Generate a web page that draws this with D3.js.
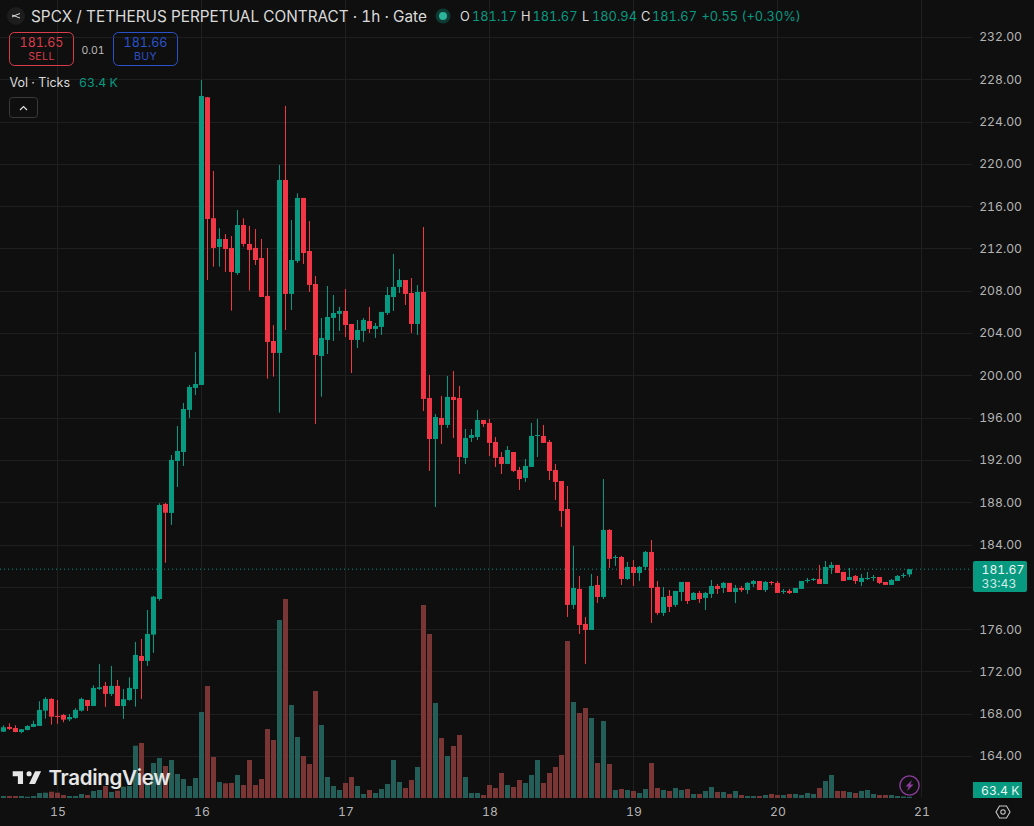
<!DOCTYPE html>
<html>
<head>
<meta charset="utf-8">
<script src="https://cdnjs.cloudflare.com/ajax/libs/d3/7.8.5/d3.min.js"></script>
<style>
html,body{margin:0;padding:0;background:#0f0f0f;overflow:hidden}
svg{display:block}
text{font-family:Inter,"Noto Sans",sans-serif;font-variant-numeric:tabular-nums}
</style>
</head>
<body>
<svg id="chart" width="1034" height="826"></svg>
<script>
// Hourly SPCX/USDT perpetual candles, oldest first
const opens = [166.30,166.75,166.65,166.27,166.46,166.75,166.84,168.29,169.40,167.79,167.88,167.47,167.60,168.29,169.30,168.73,170.34,170.63,169.87,170.63,168.73,169.30,170.34,173.46,172.99,175.48,178.85,187.84,186.99,191.90,192.75,196.73,198.81,199.09,226.30,214.86,212.14,212.90,212.05,209.68,214.22,212.43,212.05,211.10,207.51,203.25,202.12,218.48,207.70,210.82,216.78,211.76,208.64,201.83,203.35,205.43,205.81,206.09,204.86,203.35,204.20,205.14,204.39,204.58,205.90,207.41,208.36,209.02,207.79,204.86,207.89,197.86,193.98,195.97,195.31,197.96,197.86,192.19,194.08,194.17,195.78,195.50,193.70,192.28,191.62,192.75,191.05,190.30,191.34,194.27,194.27,193.70,191.05,190.01,187.36,178.29,179.80,176.49,175.92,180.18,179.04,185.38,182.73,182.82,180.74,181.88,181.31,181.88,183.30,179.99,177.53,179.14,178.29,179.51,180.46,178.76,179.42,178.95,179.33,180.08,179.89,180.37,179.51,179.89,179.70,180.27,180.55,179.70,180.46,180.37,179.51,179.61,179.42,179.80,180.55,180.65,180.74,180.27,181.78,182.07,181.41,180.65,181.03,180.46,180.74,180.84,180.93,180.46,180.18,180.55,181.03,181.17];
const highs = [166.91,167.10,166.91,166.56,166.91,167.34,169.18,169.56,169.46,169.30,167.98,167.98,168.52,169.52,169.30,170.69,172.71,171.00,172.52,171.19,170.34,171.45,174.79,175.07,177.81,179.14,187.90,187.93,192.47,195.21,197.39,199.09,202.21,227.93,226.33,219.33,213.91,213.37,213.18,215.64,214.86,214.13,213.84,212.90,212.05,204.76,219.90,225.48,214.69,217.22,216.78,214.60,209.40,205.43,208.45,207.60,206.47,208.17,204.86,205.24,205.43,206.47,204.95,206.00,208.36,211.48,210.06,209.02,209.21,208.55,214.03,200.04,196.35,198.05,199.94,200.41,199.00,194.93,194.93,196.73,195.78,195.88,194.17,192.75,193.32,192.75,191.34,192.09,195.50,195.88,195.31,193.89,191.62,190.01,189.54,183.87,181.03,177.15,181.22,181.03,190.20,185.47,183.01,182.92,182.35,182.54,181.97,183.39,184.43,180.55,179.99,179.70,179.61,180.46,180.46,179.51,179.61,179.51,180.65,180.27,180.46,180.37,180.18,180.08,180.46,180.65,180.55,180.55,180.55,180.55,179.80,179.80,179.89,180.55,180.84,180.84,182.07,182.45,182.35,182.07,181.41,181.78,181.12,181.22,181.41,181.12,180.93,180.46,180.74,181.12,181.31,181.67];
const lows = [166.27,166.46,166.25,166.15,166.43,166.75,166.84,167.53,166.97,167.03,167.19,167.29,167.53,168.20,168.26,168.73,170.25,168.64,169.68,168.73,167.50,169.23,168.67,169.40,172.52,173.75,178.69,182.28,185.85,189.44,191.43,195.97,198.14,199.09,209.02,210.28,210.28,209.78,206.12,209.49,212.17,208.01,210.44,207.41,199.69,199.88,196.47,204.29,206.18,210.63,210.53,207.89,195.40,197.98,202.02,203.25,204.20,203.63,200.22,202.59,203.16,204.01,203.54,203.82,205.71,206.09,207.79,206.66,204.01,203.82,196.63,190.96,187.55,193.51,195.02,194.08,190.67,191.62,193.70,193.89,195.12,192.38,191.34,190.67,191.62,190.86,189.16,189.92,191.34,192.28,193.61,190.11,188.22,185.66,177.15,177.91,175.54,172.71,175.92,178.47,178.85,181.78,181.97,180.18,180.65,180.08,180.55,181.59,176.58,177.34,177.25,177.62,178.10,178.66,178.38,178.76,178.47,177.81,178.95,179.33,179.42,179.51,178.47,179.51,179.33,179.99,179.70,179.51,180.18,179.42,179.33,179.33,179.42,179.80,180.37,180.55,180.27,180.27,181.22,181.31,180.55,180.65,180.27,180.08,180.65,180.55,180.27,180.18,180.18,180.55,180.84,180.94];
const closes = [166.72,166.56,166.27,166.53,166.84,167.03,168.36,169.40,167.72,167.69,167.44,167.69,168.36,169.40,168.73,170.44,170.50,169.87,170.63,168.73,169.37,170.44,173.56,172.99,175.54,179.07,187.74,187.01,192.00,192.85,196.82,198.90,199.18,226.42,214.79,212.05,212.90,211.95,209.78,214.22,212.43,211.86,210.91,207.41,203.16,202.12,218.48,207.70,210.91,216.78,211.57,208.55,201.93,203.54,205.52,205.90,206.09,204.76,203.35,204.29,205.24,204.39,204.67,206.00,207.60,208.36,209.02,207.70,204.86,207.89,197.77,193.98,196.06,195.31,197.96,197.67,192.28,194.08,194.36,195.78,195.40,193.61,192.19,191.62,192.94,190.96,190.20,191.43,194.27,194.36,193.61,190.96,189.92,187.17,178.29,179.89,176.39,175.92,180.08,179.04,185.38,182.64,182.82,180.74,181.88,181.31,181.88,183.30,179.89,177.53,179.04,178.10,179.61,180.46,178.66,179.42,178.85,179.42,180.08,179.80,180.37,179.51,179.89,179.70,180.37,180.55,179.70,180.46,180.37,179.42,179.61,179.42,179.89,180.55,180.65,180.74,180.27,181.88,182.07,181.31,180.55,180.93,180.55,180.84,180.84,180.93,180.37,180.18,180.65,181.03,181.12,181.67];
// Tick volume in thousands
const volumes = [100,100,100,100,65,100,250,265,315,265,150,100,100,200,150,350,400,600,300,365,565,600,2615,2750,650,1750,2000,1600,1900,1200,950,600,1000,4300,5600,2050,800,735,750,1150,650,1900,650,950,3450,2900,8900,9950,4650,3050,2100,1700,5350,3650,1050,600,400,750,1050,600,200,400,250,450,700,1900,800,500,900,1550,9650,8200,4750,3000,2100,2600,3150,1050,250,250,150,650,500,1250,650,550,900,750,1150,1900,750,1250,1550,2150,7850,4800,4250,4500,4000,1750,3850,1700,400,450,400,350,250,450,1750,500,400,350,500,400,450,200,200,350,550,300,300,200,350,150,100,100,100,150,200,150,150,200,200,150,250,200,500,850,1150,350,350,300,250,350,400,200,150,150,150,100,75,63.4];

const priceTicks = [232,228,224,220,216,212,208,204,200,196,192,188,184,176,172,168,164];
const gridPrices = [232,228,224,220,216,212,208,204,200,196,192,188,184,180,176,172,168,164];
const dayLabels = ["15","16","17","18","19","20","21"];
const dayBarIndex = [9,33,57,81,105,129,153];
const ohlcKeys = ["O","H","L","C"];
const ohlcValues = ["181.17","181.67","180.94","181.67"];
const lastPrice = 181.67;

const UP = "#089981", DOWN = "#f23645", BG = "#0f0f0f";
const UP_VOL = "#235f58", DOWN_VOL = "#7a3535";
const TEXT = "#dbdbdb", AXIS_TEXT = "#b4b4b4", GRID = "#1f1f1f";
const AXIS_FONT = 12.2;

const svg = d3.select("#chart");
svg.append("rect").attr("width",1034).attr("height",826).attr("fill",BG);

const plotRight = 972, plotBottom = 798;
const x = d3.scaleLinear().domain([0,151]).range([3.5,909.5]);
const y = d3.scaleLinear().domain([164,232]).range([756,37]);
const yVol = d3.scaleLinear().domain([0,12000]).range([plotBottom,558]);
const bars = d3.range(opens.length);
const isUp = i => closes[i] >= opens[i];

// Grid
const grid = svg.append("g");
grid.selectAll("line.h").data(gridPrices).join("line").attr("class","h")
  .attr("x1",0).attr("x2",plotRight).attr("y1",d=>Math.round(y(d))+0.5).attr("y2",d=>Math.round(y(d))+0.5)
  .attr("stroke",GRID);
grid.selectAll("line.v").data(dayBarIndex).join("line").attr("class","v")
  .attr("x1",d=>Math.floor(x(d))+0.5).attr("x2",d=>Math.floor(x(d))+0.5).attr("y1",0).attr("y2",plotBottom)
  .attr("stroke",GRID);

// Volume histogram
svg.append("g").selectAll("rect").data(bars).join("rect")
  .attr("x",i=>x(i)-2.5).attr("width",5)
  .attr("y",i=>yVol(volumes[i])).attr("height",i=>plotBottom-yVol(volumes[i]))
  .attr("fill",i=>isUp(i)?UP_VOL:DOWN_VOL);

// Last-price line
svg.append("line").attr("x1",0).attr("x2",plotRight)
  .attr("y1",y(lastPrice)).attr("y2",y(lastPrice))
  .attr("stroke",UP).attr("stroke-width",1).attr("stroke-dasharray","1 3");

// Candles
const candles = svg.append("g");
candles.selectAll("rect.wick").data(bars).join("rect").attr("class","wick")
  .attr("x",i=>x(i)-0.5).attr("width",1)
  .attr("y",i=>y(highs[i])).attr("height",i=>y(lows[i])-y(highs[i]))
  .attr("fill",i=>isUp(i)?UP:DOWN);
candles.selectAll("rect.body").data(bars).join("rect").attr("class","body")
  .attr("x",i=>x(i)-2.5).attr("width",5)
  .attr("y",i=>y(Math.max(opens[i],closes[i])))
  .attr("height",i=>Math.max(1,Math.abs(y(opens[i])-y(closes[i]))))
  .attr("fill",i=>isUp(i)?UP:DOWN);

// Price axis
const yAxis = svg.append("g").attr("transform","translate(1022,0)")
  .call(d3.axisLeft(y).tickValues(priceTicks).tickFormat(d3.format(".2f")).tickSize(0));
yAxis.select(".domain").remove();
yAxis.selectAll("text").attr("x",0).attr("fill",AXIS_TEXT).attr("font-size",AXIS_FONT).attr("font-family","Inter,sans-serif");

// Date axis
const xAxis = svg.append("g").attr("transform","translate(0,805)")
  .call(d3.axisBottom(x).tickValues(dayBarIndex).tickFormat((d,k)=>dayLabels[k]).tickSize(0));
xAxis.select(".domain").remove();
xAxis.selectAll("text").attr("y",0).attr("dy","0.9em").attr("fill",AXIS_TEXT).attr("font-size",AXIS_FONT).attr("font-family","Inter,sans-serif");

// Last-price tag
const tag = svg.append("g");
tag.append("rect").attr("x",973).attr("y",561).attr("width",54).attr("height",31).attr("rx",2).attr("fill",UP);
tag.append("text").attr("x",981.5).attr("y",573.5).attr("fill","#e8f5f2").attr("font-size",AXIS_FONT).text(d3.format(".2f")(lastPrice));
tag.append("text").attr("x",981.5).attr("y",587.5).attr("fill","#cfeae4").attr("font-size",AXIS_FONT).text("33:43");

// Volume tag
const vtag = svg.append("g");
vtag.append("rect").attr("x",973).attr("y",782).attr("width",49).attr("height",16).attr("fill",UP);
vtag.append("text").attr("x",981).attr("y",794.5).attr("fill","#e8f5f2").attr("font-size",AXIS_FONT).text("63.4 K");

// Settings glyph below the price axis
const gear = svg.append("g").attr("transform","translate(1003,812)").attr("fill","none").attr("stroke","#c8c8c8").attr("stroke-width",1.1);
gear.append("path").attr("d","M-7,0 L-3.5,-6 L3.5,-6 L7,0 L3.5,6 L-3.5,6 Z");
gear.append("circle").attr("r",2.2);

// Legend row
const head = svg.append("g");
head.append("circle").attr("cx",16).attr("cy",16).attr("r",9).attr("fill","#1d1d1d");
head.append("path").attr("d","M12,17 L16,15 L20,13.5 M12,15 L20,18").attr("stroke","#dddddd").attr("stroke-width",1).attr("fill","none");
head.append("text").attr("x",31).attr("y",21.5).attr("fill",TEXT).attr("font-size",15.35).text("SPCX / TETHERUS PERPETUAL CONTRACT · 1h · Gate");
head.append("circle").attr("cx",443).attr("cy",16).attr("r",7.5).attr("fill","#0d3a33");
head.append("circle").attr("cx",443).attr("cy",16).attr("r",4).attr("fill","#2bb39b");

const keyX = [460,521,582,641];
const valueX = [472,532.5,592,652];
ohlcKeys.forEach((k,n)=>{
  head.append("text").attr("x",keyX[n]).attr("y",21).attr("font-size",12.8).attr("fill",TEXT).text(k);
  head.append("text").attr("x",valueX[n]).attr("y",21).attr("font-size",12.8).attr("fill",UP).text(ohlcValues[n]);
});
head.append("text").attr("x",701.5).attr("y",21).attr("font-size",12.8).attr("fill",UP).text("+0.55 (+0.30%)");

// Sell / buy boxes
const orderBox = (bx,color,price,label)=>{
  svg.append("rect").attr("x",bx).attr("y",32.5).attr("width",64).attr("height",33).attr("rx",5).attr("fill","none").attr("stroke",color);
  svg.append("text").attr("x",bx+32).attr("y",46.5).attr("text-anchor","middle").attr("fill",color).attr("font-size",12.5).text(price);
  svg.append("text").attr("x",bx+32).attr("y",60).attr("text-anchor","middle").attr("fill",color).attr("font-size",10.5).attr("letter-spacing",0.4).text(label);
};
orderBox(9.5,"#d93d4a","181.65","SELL");
orderBox(113.5,"#2a52c9","181.66","BUY");
svg.append("text").attr("x",93).attr("y",53.5).attr("text-anchor","middle").attr("fill","#bbbbbb").attr("font-size",10.5).text("0.01");

svg.append("text").attr("x",9.5).attr("y",87).attr("fill",TEXT).attr("font-size",12.5).text("Vol · Ticks");
svg.append("text").attr("x",79).attr("y",87).attr("fill",UP).attr("font-size",12.3).text("63.4 K");

svg.append("rect").attr("x",9.5).attr("y",97.5).attr("width",28).attr("height",20).attr("rx",3).attr("fill","none").attr("stroke","#3a3a3a");
svg.append("path").attr("d","M20,110 L23.5,106.5 L27,110").attr("fill","none").attr("stroke","#e0e0e0").attr("stroke-width",1.2);

// TradingView attribution
const logo = svg.append("g");
logo.append("path").attr("transform","translate(11,766) scale(0.86)")
  .attr("d","M14 6H2v6h6v9h6V6zm14 15h-7l7-15h7l-7 15zm-7-9a3 3 0 1 0 0-6 3 3 0 0 0 0 6z").attr("fill","#e6e6e6");
logo.append("text").attr("x",48.5).attr("y",784.5).attr("fill","#e6e6e6").attr("font-size",20.5).attr("font-weight",600).attr("letter-spacing",-0.3).text("TradingView");

// Purple bolt badge
const bolt = svg.append("g").attr("transform","translate(909.5,785.5)");
bolt.append("circle").attr("r",9.6).attr("fill","none").attr("stroke","#8e3d9f").attr("stroke-width",1.4);
bolt.append("path").attr("d","M2.5,-5.5 L-4,1 L-0.8,1 L-2.5,5.5 L4,-1 L0.8,-1 Z").attr("fill","#8e3d9f");
</script>
</body>
</html>
